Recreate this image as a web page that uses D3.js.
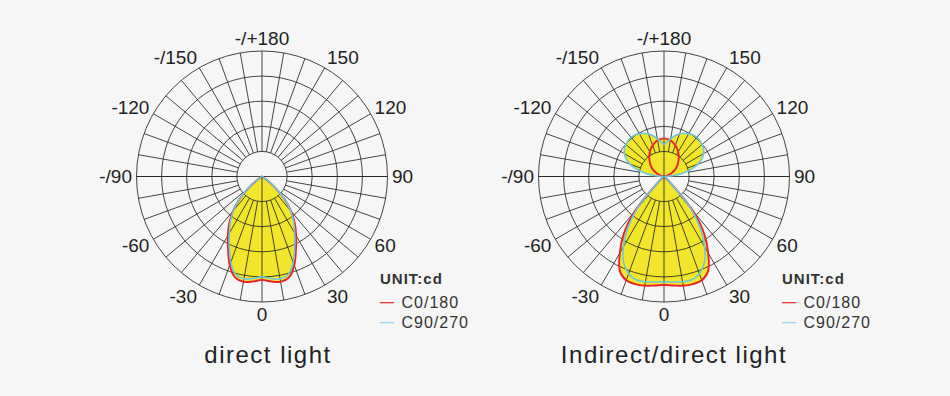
<!DOCTYPE html>
<html>
<head>
<meta charset="utf-8">
<script src="https://cdn.jsdelivr.net/npm/d3@7"></script>
<style>
  body { margin: 0; background: #f6f6f6; }
  svg { display: block; font-family: "Liberation Sans", Arial, sans-serif; }
</style>
</head>
<body>
<script>
// Angles in degrees, 0 = straight down (nadir), 180 = straight up
var angles = d3.range(0, 181, 5);

// Candela values, one per angle above (half plane, mirrored)
var directC0 = [412, 420, 426, 416, 376, 320, 272, 228, 180, 128, 64, 16, 0,
  0, 0, 0, 0, 0, 0, 0, 0, 0, 0, 0, 0, 0, 0, 0, 0, 0, 0, 0, 0, 0, 0, 0, 0];
var directC90 = [400, 408, 414, 404, 364, 308, 260, 220, 176, 128, 64, 16, 0,
  0, 0, 0, 0, 0, 0, 0, 0, 0, 0, 0, 0, 0, 0, 0, 0, 0, 0, 0, 0, 0, 0, 0, 0];
var indirectC0 = [432, 436, 442, 444, 440, 416, 352, 280, 180, 40, 0, 0, 0, 0, 0, 0, 0, 0, 0,
  2, 6, 12, 22, 34, 48, 59, 70, 80, 91, 102, 113, 123, 132, 140, 147, 150, 152];
var indirectC90 = [420, 422, 426, 426, 412, 380, 324, 252, 164, 36, 0, 0, 0, 0, 0, 0, 0, 0, 0,
  32, 76, 112, 144, 166, 182, 192, 198, 202, 204, 202, 197, 190, 180, 168, 152, 138, 128];

var maxCd = 500;
var ringCount = 5;

// Angle labels round the rim
var labelAngles = [0, 30, 60, 90, 120, 150, 180, -30, -60, -90, -120, -150];
var labelTexts = ["0", "30", "60", "90", "120", "150", "-/+180", "-30", "-60", "-/90", "-120", "-/150"];

var seriesNames = ["C0/180", "C90/270"];
var seriesColors = ["#e8232b", "#6cc8dc"];
var legendColors = ["#e8232b", "#8fd6e8"];

var panels = [
  { title: "direct light", cx: 262, cy: 176.5, titleX: 268, series: [directC0, directC90] },
  { title: "Indirect/direct light", cx: 664, cy: 176.5, titleX: 674, series: [indirectC0, indirectC90] }
];

var svgWidth = 950;
var svgHeight = 396;
var outerR = 125.5;

var svg = d3.select("body")
  .append("svg")
  .attr("width", svgWidth)
  .attr("height", svgHeight);

var rScale = d3.scaleLinear()
  .domain([0, maxCd])
  .range([0, outerR]);

var toRad = Math.PI / 180;

// turn a half-plane series into a closed loop of [theta, r] for d3.lineRadial
function loopPoints(values) {
  var pts = [];
  angles.forEach(function(a, i) {
    pts.push([Math.PI - a * toRad, rScale(values[i])]);
  });
  for (var i = angles.length - 2; i > 0; i--) {
    pts.push([Math.PI + angles[i] * toRad, rScale(values[i])]);
  }
  return pts;
}

var radialLine = d3.lineRadial()
  .angle(d => d[0])
  .radius(d => d[1])
  .curve(d3.curveCatmullRomClosed.alpha(0.5));

panels.forEach(function(p, pi) {
  var g = svg.append("g")
    .attr("transform", `translate(${p.cx}, ${p.cy})`);

  var loops = p.series.map(loopPoints);

  // yellow fill under both curves
  g.selectAll(".fill")
    .data(loops)
    .enter()
    .append("path")
    .attr("d", radialLine)
    .attr("fill", "#f2e62a")
    .attr("stroke", "none");

  // clip for the centre line through the hole
  var clipId = "clip" + pi;
  var clip = svg.append("clipPath").attr("id", clipId);
  loops.forEach(function(l) {
    clip.append("path").attr("d", radialLine(l))
      .attr("transform", `translate(${p.cx}, ${p.cy})`);
  });

  var grid = g.append("g")
    .attr("fill", "none")
    .attr("stroke", "#262626")
    .attr("stroke-width", 0.85);

  var rings = d3.range(1, ringCount + 1).map(k => rScale(maxCd * k / ringCount));
  grid.selectAll("circle")
    .data(rings)
    .enter()
    .append("circle")
    .attr("r", d => d);

  var r0 = rings[0];
  grid.selectAll(".spoke")
    .data(d3.range(0, 360, 10))
    .enter()
    .append("line")
    .attr("x1", d => r0 * Math.sin(d * toRad))
    .attr("y1", d => r0 * Math.cos(d * toRad))
    .attr("x2", d => outerR * Math.sin(d * toRad))
    .attr("y2", d => outerR * Math.cos(d * toRad));

  grid.append("line")
    .attr("x1", -outerR).attr("x2", outerR)
    .attr("y1", 0).attr("y2", 0);

  svg.append("line")
    .attr("clip-path", `url(#${clipId})`)
    .attr("x1", p.cx).attr("x2", p.cx)
    .attr("y1", p.cy - r0).attr("y2", p.cy + r0)
    .attr("stroke", "#262626")
    .attr("stroke-width", 0.85);

  // curves, red first then cyan on top
  g.selectAll(".curve")
    .data(loops)
    .enter()
    .append("path")
    .attr("d", radialLine)
    .attr("fill", "none")
    .attr("stroke", (d, i) => seriesColors[i])
    .attr("stroke-width", (d, i) => i === 0 ? 1.9 : 1.6);

  // rim labels
  g.selectAll(".lbl")
    .data(labelAngles)
    .enter()
    .append("text")
    .attr("x", d => (d === 0 || d === 180) ? 0 : 130 * Math.sin(d * toRad))
    .attr("y", d => 138 * Math.cos(d * toRad) + 6.5)
    .attr("text-anchor", d => (d === 0 || d === 180) ? "middle" : (d > 0 ? "start" : "end"))
    .attr("font-size", 19)
    .attr("fill", "#222")
    .text((d, i) => labelTexts[i]);

  // legend
  var lg = g.append("g").attr("transform", "translate(118, 0)");
  lg.append("text")
    .attr("x", 0).attr("y", 107.5)
    .attr("font-size", 15)
    .attr("font-weight", "bold")
    .attr("letter-spacing", 1)
    .attr("fill", "#333")
    .text("UNIT:cd");

  seriesNames.forEach(function(name, i) {
    var y = 126.2 + i * 20;
    lg.append("line")
      .attr("x1", 0).attr("x2", 14)
      .attr("y1", y).attr("y2", y)
      .attr("stroke", legendColors[i])
      .attr("stroke-width", 1.2);
    lg.append("text")
      .attr("x", 21.5).attr("y", y + 5.6)
      .attr("font-size", 16)
      .attr("letter-spacing", 1)
      .attr("fill", "#333")
      .text(name);
  });

  // title
  svg.append("text")
    .attr("x", p.titleX)
    .attr("y", 362.5)
    .attr("text-anchor", "middle")
    .attr("font-size", 24)
    .attr("letter-spacing", 1.5)
    .attr("fill", "#222")
    .text(p.title);
});
</script>
</body>
</html>
